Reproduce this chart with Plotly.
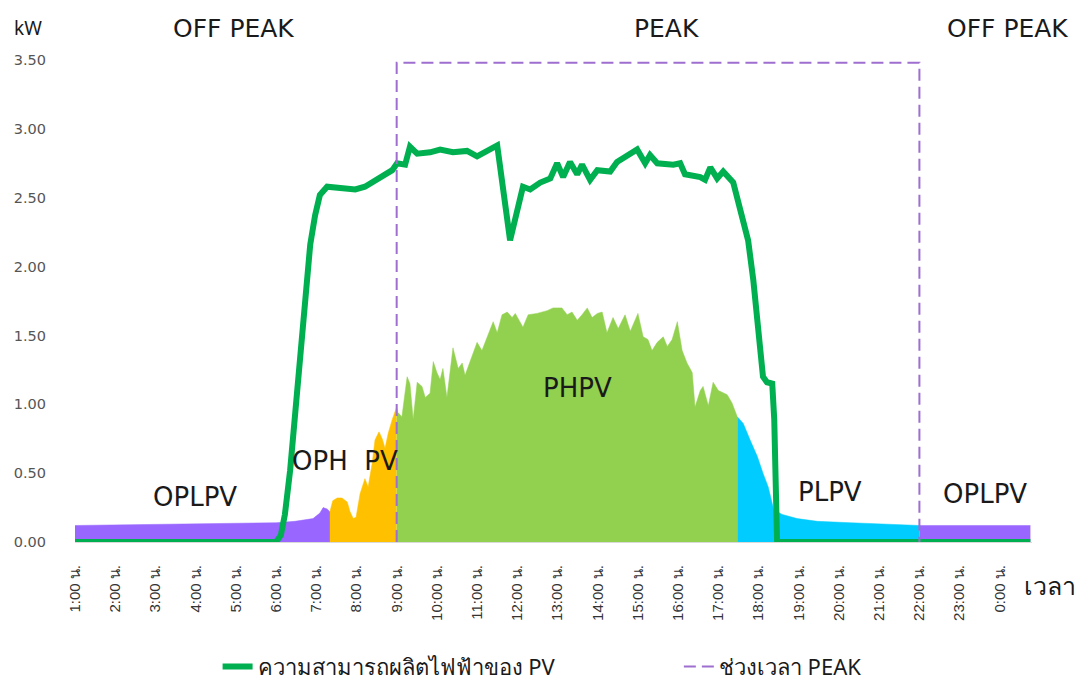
import plotly.graph_objects as go

# ---- data (time in hours, 24.x = after midnight; power in kW) ----
# PV generating capability
cap_time = [1.00, 6.00, 6.12, 6.22, 6.35, 6.47, 6.60, 6.72, 6.85, 6.97, 7.09, 7.27, 7.59,
            7.97, 8.21, 8.39, 8.71, 8.89, 9.01, 9.21, 9.33, 9.51, 9.83, 10.08, 10.40,
            10.75, 11.00, 11.50, 11.82, 12.14, 12.32, 12.57, 12.82, 12.99, 13.14, 13.31,
            13.49, 13.61, 13.81, 13.99, 14.31, 14.48, 14.98, 15.18, 15.30, 15.48, 15.88,
            16.05, 16.17, 16.55, 16.67, 16.80, 16.97, 17.12, 17.37, 17.62, 17.74, 17.87,
            17.99, 18.11, 18.21, 18.34, 18.39, 18.44, 18.46, 24.76]
cap_kw = [0.00, 0.00, 0.05, 0.20, 0.52, 0.89, 1.32, 1.76, 2.16, 2.37, 2.52, 2.58, 2.57,
          2.56, 2.58, 2.61, 2.66, 2.70, 2.75, 2.74, 2.87, 2.82, 2.83, 2.85, 2.83,
          2.84, 2.80, 2.88, 2.19, 2.58, 2.56, 2.61, 2.64, 2.75, 2.65, 2.76,
          2.67, 2.74, 2.63, 2.70, 2.69, 2.76, 2.85, 2.75, 2.81, 2.75, 2.74,
          2.75, 2.67, 2.65, 2.63, 2.72, 2.64, 2.69, 2.61, 2.34, 2.19, 1.90,
          1.56, 1.20, 1.16, 1.15, 0.89, 0.40, 0.00, 0.00]

# Off-peak load served by PV, early morning
oplpv_am_time = [1.00, 3.49, 6.00, 6.47, 6.92, 7.09, 7.17, 7.27, 7.34]
oplpv_am_kw = [0.12, 0.13, 0.14, 0.15, 0.17, 0.21, 0.25, 0.24, 0.22]

# Off-peak PV before 9:00
ophpv_time = [7.34, 7.41, 7.52, 7.64, 7.77, 7.84, 7.92, 7.99, 8.09, 8.21, 8.29, 8.39,
              8.46, 8.56, 8.64, 8.71, 8.79, 8.89, 9.00]
ophpv_kw = [0.22, 0.30, 0.32, 0.32, 0.29, 0.22, 0.17, 0.18, 0.35, 0.46, 0.40, 0.57,
            0.74, 0.80, 0.75, 0.68, 0.79, 0.89, 0.98]

# Peak-period PV
phpv_time = [9.00, 9.03, 9.13, 9.26, 9.33, 9.41, 9.51, 9.63, 9.71, 9.83, 9.91, 10.00,
             10.08, 10.15, 10.25, 10.33, 10.40, 10.53, 10.63, 10.70, 10.83, 11.00, 11.12,
             11.25, 11.40, 11.50, 11.62, 11.75, 11.87, 11.95, 12.07, 12.14, 12.27, 12.49,
             12.74, 12.89, 13.11, 13.24, 13.36, 13.49, 13.61, 13.74, 13.86, 13.99, 14.11,
             14.23, 14.38, 14.51, 14.68, 14.81, 15.00, 15.13, 15.25, 15.35, 15.48, 15.63,
             15.73, 15.85, 15.98, 16.10, 16.22, 16.35, 16.42, 16.55, 16.62, 16.75, 16.87,
             17.00, 17.22, 17.34, 17.47]
phpv_kw = [0.98, 0.94, 0.91, 1.20, 1.15, 0.89, 1.16, 1.13, 1.05, 1.08, 1.31, 1.23,
           1.18, 1.26, 1.05, 1.23, 1.41, 1.26, 1.30, 1.21, 1.31, 1.45, 1.39,
           1.49, 1.60, 1.52, 1.65, 1.67, 1.63, 1.66, 1.60, 1.56, 1.65, 1.66,
           1.68, 1.70, 1.70, 1.65, 1.67, 1.61, 1.65, 1.70, 1.63, 1.66, 1.67,
           1.52, 1.63, 1.55, 1.65, 1.53, 1.66, 1.49, 1.47, 1.39, 1.45, 1.49,
           1.42, 1.47, 1.60, 1.39, 1.30, 1.23, 0.98, 1.10, 1.13, 0.99, 1.16,
           1.10, 1.07, 1.01, 0.91]

# Peak-period low PV, evening
plpv_time = [17.47, 17.62, 17.79, 17.97, 18.11, 18.24, 18.34, 18.41, 18.46, 18.59,
             18.96, 19.46, 20.28, 21.10, 22.00]
plpv_kw = [0.91, 0.86, 0.74, 0.62, 0.50, 0.40, 0.28, 0.20, 0.22, 0.20,
           0.17, 0.15, 0.14, 0.13, 0.12]

# Off-peak load served by PV, night
oplpv_pm_time = [22.00, 24.76]
oplpv_pm_kw = [0.12, 0.12]

# Peak window outline
peak_time = [9.0, 9.0, 22.0, 22.0]
peak_kw = [0.0, 3.48, 3.48, 0.0]

hour_ticks = list(range(1, 25))
hour_labels = [f"{h % 24}:00 น." for h in hour_ticks]
y_ticks = [0.0, 0.5, 1.0, 1.5, 2.0, 2.5, 3.0, 3.5]

# ---- styling ----
C_PURPLE = "#9966FF"
C_GOLD = "#FFC000"
C_LGREEN = "#92D050"
C_CYAN = "#00CCFF"
C_GREEN = "#00B050"
C_DASH = "#9E6FD0"
FONT = "Noto Sans"
LABEL_FONT = "DejaVu Sans"
INK = "#1a1a1a"

fig = go.Figure()


def area(t, v, color):
    fig.add_trace(go.Scatter(
        x=t, y=v, mode="lines", fill="tozeroy", fillcolor=color,
        line=dict(color=color, width=0.5), showlegend=False, hoverinfo="skip"))


area(oplpv_am_time, oplpv_am_kw, C_PURPLE)
area(ophpv_time, ophpv_kw, C_GOLD)
area(phpv_time, phpv_kw, C_LGREEN)
area(plpv_time, plpv_kw, C_CYAN)
area(oplpv_pm_time, oplpv_pm_kw, C_PURPLE)

fig.add_trace(go.Scatter(
    x=cap_time, y=cap_kw, mode="lines", name="ความสามารถผลิตไฟฟ้าของ PV",
    line=dict(color=C_GREEN, width=6, shape="linear"), legend="legend"))

fig.add_trace(go.Scatter(
    x=peak_time, y=peak_kw, mode="lines", name="ช่วงเวลา PEAK",
    line=dict(color=C_DASH, width=2, dash="12px,6px"), legend="legend2"))

# ---- labels ----
ann = []
for txt, xv in [("OFF PEAK", 4.93), ("PEAK", 15.70), ("OFF PEAK", 24.18)]:
    ann.append(dict(x=xv, y=1.066, xref="x", yref="paper", text=txt, showarrow=False,
                    xanchor="center", yanchor="middle",
                    font=dict(family=LABEL_FONT, size=25, color=INK)))
for txt, xv, yv in [("OPLPV", 3.99, 0.33), ("OPH  PV", 7.72, 0.59), ("PHPV", 13.49, 1.12),
                    ("PLPV", 19.78, 0.36), ("OPLPV", 23.64, 0.35)]:
    ann.append(dict(x=xv, y=yv, xref="x", yref="y", text=txt, showarrow=False,
                    xanchor="center", yanchor="middle",
                    font=dict(family=LABEL_FONT, size=26, color=INK)))
ann.append(dict(x=-0.049, y=1.066, xref="paper", yref="paper", text="kW", showarrow=False,
                xanchor="center", yanchor="middle",
                font=dict(family=FONT, size=19, color=INK)))
ann.append(dict(x=0.990, y=-0.089, xref="paper", yref="paper", text="เวลา", showarrow=False,
                xanchor="left", yanchor="middle",
                font=dict(family=FONT, size=25, color=INK)))

legend_style = dict(orientation="h", xanchor="left", yref="container", y=0.021,
                    yanchor="middle", font=dict(family=FONT, size=22, color=INK),
                    bgcolor="rgba(0,0,0,0)")

fig.update_layout(
    width=1086, height=681,
    margin=dict(l=75, r=54, t=60, b=139, autoexpand=False),
    paper_bgcolor="white", plot_bgcolor="white",
    font=dict(family=FONT, color=INK),
    annotations=ann,
    legend=dict(x=0.149, **legend_style),
    legend2=dict(x=0.631, **legend_style),
)
fig.update_xaxes(
    range=[1.0, 24.8], tickmode="array", tickvals=hour_ticks, ticktext=hour_labels,
    tickangle=-90, tickfont=dict(family="Liberation Sans", size=15, color="#333333"),
    showgrid=False, zeroline=False, showline=True, linecolor="#D9D9D9", linewidth=1,
    ticks="", ticklabelstandoff=16, automargin=False,
)
fig.update_yaxes(
    range=[0, 3.5], tickmode="array", tickvals=y_ticks,
    ticktext=[f"{v:.2f}" for v in y_ticks],
    tickfont=dict(family=LABEL_FONT, size=14.5, color="#555555"),
    showgrid=False, zeroline=False, showline=False, ticks="", ticklabelstandoff=28,
    automargin=False,
)

fig.write_html("out.html")
